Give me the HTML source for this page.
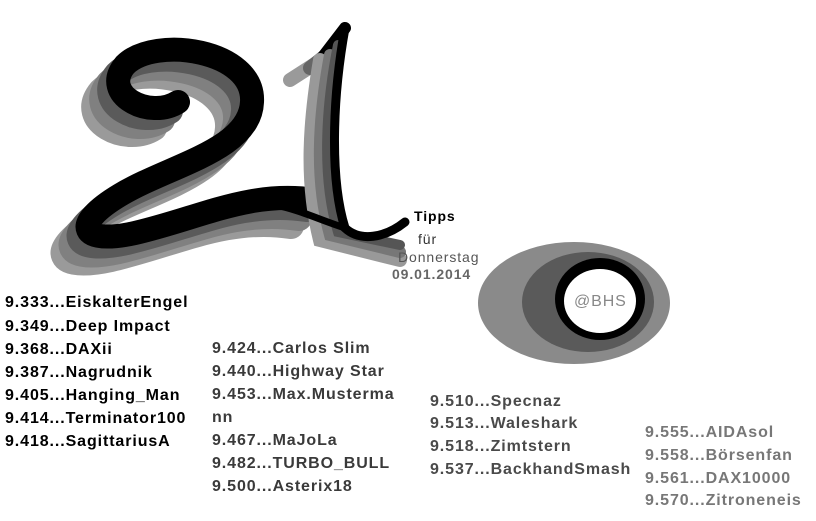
<!DOCTYPE html>
<html><head><meta charset="utf-8"><style>
body{margin:0;width:816px;height:521px;background:#fff;position:relative;overflow:hidden;font-family:"Liberation Sans",sans-serif}
.t{position:absolute;font-weight:bold;font-size:16px;line-height:18px;white-space:nowrap;letter-spacing:0.9px}
.c1{color:#000}.c2{color:#3a3a3a}.c3{color:#4a4a4a}.c4{color:#777}
svg{position:absolute;left:0;top:0}
</style></head><body>
<svg width="816" height="521" viewBox="0 0 816 521">
<g fill="none" stroke-linecap="round">
 <g transform="translate(-24,26)" stroke="#9a9a9a" stroke-width="26"><path d="M178,102 C150,120 100,95 125,65 C155,35 255,50 252,102 C250,150 170,165 120,195 C70,225 80,245 135,233 C200,218 250,190 315,200"/></g>
 <g transform="translate(-16,18)" stroke="#808080" stroke-width="26"><path d="M178,102 C150,120 100,95 125,65 C155,35 255,50 252,102 C250,150 170,165 120,195 C70,225 80,245 135,233 C200,218 250,190 315,200"/></g>
 <g transform="translate(-8,9)" stroke="#5a5a5a" stroke-width="26"><path d="M178,102 C150,120 100,95 125,65 C155,35 255,50 252,102 C250,150 170,165 120,195 C70,225 80,245 135,233 C200,218 250,190 315,200"/></g>
 <path stroke="#000" stroke-width="24" d="M178,102 C150,120 100,95 125,65 C155,35 255,50 252,102 C250,150 170,165 120,195 C70,225 80,245 135,233 C200,218 250,190 315,200"/>
 <path stroke="#9a9a9a" stroke-width="14" d="M290,80 L318,62"/>
 <path stroke="#666" stroke-width="14" d="M310,68 L330,52"/>
 <path stroke="#000" stroke-width="12" d="M322,58 L345,28"/>
 <path stroke="#999" stroke-width="14" d="M320,60 C310,120 305,180 320,240 L400,260"/>
 <path stroke="#777" stroke-width="12" d="M330,55 C318,120 315,180 330,235 L400,252"/>
 <path stroke="#555" stroke-width="10" d="M338,45 C325,110 322,180 338,232 L400,245"/>
 <path stroke="#000" stroke-width="9" d="M345,28 C332,100 330,180 345,228 C360,242 385,238 405,222"/>
 <path stroke="#000" stroke-width="7" d="M275,205 C300,210 320,220 345,228"/>
</g>
<ellipse cx="574" cy="303" rx="96" ry="61" fill="#8a8a8a"/>
<ellipse cx="588" cy="302" rx="66" ry="50" fill="#5a5a5a"/>
<ellipse cx="600" cy="299" rx="45" ry="41" fill="#000"/>
<ellipse cx="600" cy="301" rx="36" ry="32" fill="#fff"/>
</svg>
<div class="t" style="left:414px;top:207px;font-size:14px;color:#000">Tipps</div>
<div class="t" style="left:418px;top:230px;font-size:14px;color:#333;font-weight:normal">für</div>
<div class="t" style="left:398px;top:248px;font-size:14px;color:#555;font-weight:normal">Donnerstag</div>
<div class="t" style="left:392px;top:265px;font-size:14px;color:#666">09.01.2014</div>
<div class="t" style="left:574px;top:293px;font-size:16px;color:#888;font-weight:normal">@BHS</div>

<div class="t c1" style="left:5px;top:294px">9.333...EiskalterEngel</div>
<div class="t c1" style="left:5px;top:318px">9.349...Deep Impact</div>
<div class="t c1" style="left:5px;top:341px">9.368...DAXii</div>
<div class="t c1" style="left:5px;top:364px">9.387...Nagrudnik</div>
<div class="t c1" style="left:5px;top:387px">9.405...Hanging_Man</div>
<div class="t c1" style="left:5px;top:410px">9.414...Terminator100</div>
<div class="t c1" style="left:5px;top:433px">9.418...SagittariusA</div>

<div class="t c2" style="left:212px;top:340px">9.424...Carlos Slim</div>
<div class="t c2" style="left:212px;top:363px">9.440...Highway Star</div>
<div class="t c2" style="left:212px;top:386px">9.453...Max.Musterma</div>
<div class="t c2" style="left:212px;top:409px">nn</div>
<div class="t c2" style="left:212px;top:432px">9.467...MaJoLa</div>
<div class="t c2" style="left:212px;top:455px">9.482...TURBO_BULL</div>
<div class="t c2" style="left:212px;top:478px">9.500...Asterix18</div>

<div class="t c3" style="left:430px;top:393px">9.510...Specnaz</div>
<div class="t c3" style="left:430px;top:415px">9.513...Waleshark</div>
<div class="t c3" style="left:430px;top:438px">9.518...Zimtstern</div>
<div class="t c3" style="left:430px;top:461px">9.537...BackhandSmash</div>

<div class="t c4" style="left:645px;top:424px">9.555...AIDAsol</div>
<div class="t c4" style="left:645px;top:447px">9.558...Börsenfan</div>
<div class="t c4" style="left:645px;top:470px">9.561...DAX10000</div>
<div class="t c4" style="left:645px;top:492px">9.570...Zitroneneis</div>
</body></html>
